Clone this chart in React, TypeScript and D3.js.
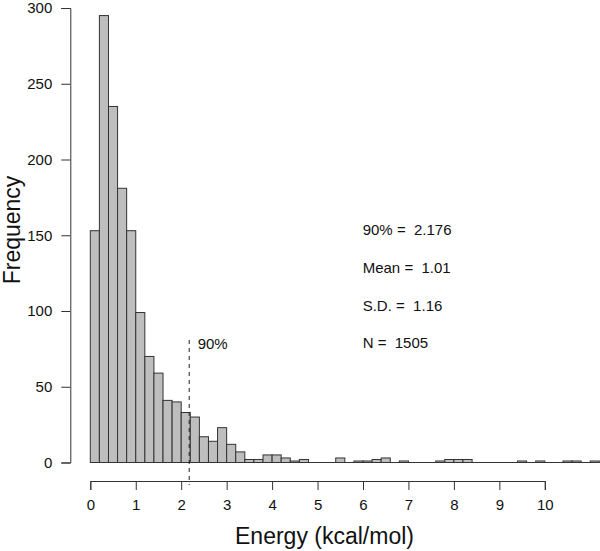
import { useEffect, useRef } from 'react';
import { select, scaleLinear, axisBottom, axisLeft } from 'd3';

// histogram counts, 0.2 kcal/mol bins starting at 0
const binWidth = 0.2;
const counts = [
  153, 295, 235, 181, 153, 99, 70, 59, 41, 40, 33, 30, 17, 14, 23, 12, 7, 2, 2, 5,
  5, 3, 1, 2, 0, 0, 0, 3, 0, 1, 1, 2, 3, 0, 1, 0, 0, 0, 1, 2,
  2, 2, 0, 0, 0, 0, 0, 1, 0, 1, 0, 0, 1, 1, 0, 1,
];
const xTicks = [0, 1, 2, 3, 4, 5, 6, 7, 8, 9, 10];
const yTicks = [0, 50, 100, 150, 200, 250, 300];
const quantile90 = 2.176;
const statLines = ['90% =  2.176', 'Mean =  1.01', 'S.D. =  1.16', 'N =  1505'];

const FONT = '"Liberation Sans", Arial, Helvetica, sans-serif';

export default function App() {
  const svgRef = useRef<SVGSVGElement | null>(null);

  useEffect(() => {
    if (!svgRef.current) return;
    const svg = select(svgRef.current);
    svg.selectAll('*').remove();

    const width = 600;
    const height = 551;

    const x = scaleLinear().domain([0, 10]).range([90.3, 544.8]);
    const y = scaleLinear().domain([0, 300]).range([462.5, 8]);

    svg.attr('viewBox', `0 0 ${width} ${height}`).style('font-family', FONT);

    const bins = counts.map((c, i) => ({ x0: i * binWidth, x1: (i + 1) * binWidth, count: c }));

    // baseline under the zero-count bins
    svg
      .append('line')
      .attr('x1', x(0))
      .attr('x2', x(bins[bins.length - 1].x1))
      .attr('y1', y(0))
      .attr('y2', y(0))
      .attr('stroke', '#333')
      .attr('stroke-width', 1);

    svg
      .append('g')
      .selectAll('rect')
      .data(bins.filter((d) => d.count > 0))
      .join('rect')
      .attr('x', (d) => x(d.x0))
      .attr('y', (d) => y(d.count))
      .attr('width', (d) => x(d.x1) - x(d.x0))
      .attr('height', (d) => y(0) - y(d.count))
      .attr('fill', '#bebebe')
      .attr('stroke', '#333')
      .attr('stroke-width', 1);

    // x axis, R style: detached below the plot
    const xAxis = svg
      .append('g')
      .attr('transform', 'translate(0, 481)')
      .call(axisBottom(x).tickValues(xTicks).tickSizeOuter(0).tickSize(9).tickPadding(9));
    xAxis.selectAll('text').style('fill', '#111').style('font-size', '15px').style('font-family', FONT);
    xAxis.selectAll('line').style('stroke', '#333');
    xAxis.select('.domain').style('stroke', '#333');

    const yAxis = svg
      .append('g')
      .attr('transform', 'translate(70.3, 0)')
      .call(axisLeft(y).tickValues(yTicks).tickSizeOuter(0).tickSize(9).tickPadding(9));
    yAxis.selectAll('text').style('fill', '#111').style('font-size', '15px').style('font-family', FONT);
    yAxis.selectAll('line').style('stroke', '#333');
    yAxis.select('.domain').style('stroke', '#333');

    // 90% quantile marker
    svg
      .append('line')
      .attr('x1', x(quantile90))
      .attr('x2', x(quantile90))
      .attr('y1', 340)
      .attr('y2', 485)
      .attr('stroke', '#222')
      .attr('stroke-width', 1)
      .attr('stroke-dasharray', '4,4');
    svg
      .append('text')
      .attr('x', x(quantile90) + 8.5)
      .attr('y', 349)
      .attr('font-size', 15)
      .attr('fill', '#111')
      .text('90%');

    svg
      .append('g')
      .selectAll('text')
      .data(statLines)
      .join('text')
      .attr('x', 362.7)
      .attr('y', (_, i) => 235 + i * 37.8)
      .attr('font-size', 15)
      .attr('fill', '#111')
      .style('white-space', 'pre')
      .text((d) => d);

    svg
      .append('text')
      .attr('x', 324.5)
      .attr('y', 544)
      .attr('text-anchor', 'middle')
      .attr('font-size', 23)
      .attr('fill', '#111')
      .text('Energy (kcal/mol)');

    svg
      .append('text')
      .attr('transform', 'translate(20, 230) rotate(-90)')
      .attr('text-anchor', 'middle')
      .attr('font-size', 23)
      .attr('fill', '#111')
      .text('Frequency');
  }, []);

  return (
    <svg
      ref={svgRef}
      width={600}
      height={551}
      style={{ position: 'absolute', left: 0, top: 0, background: '#fff' }}
      role="img"
      aria-label="Energy histogram"
    />
  );
}
